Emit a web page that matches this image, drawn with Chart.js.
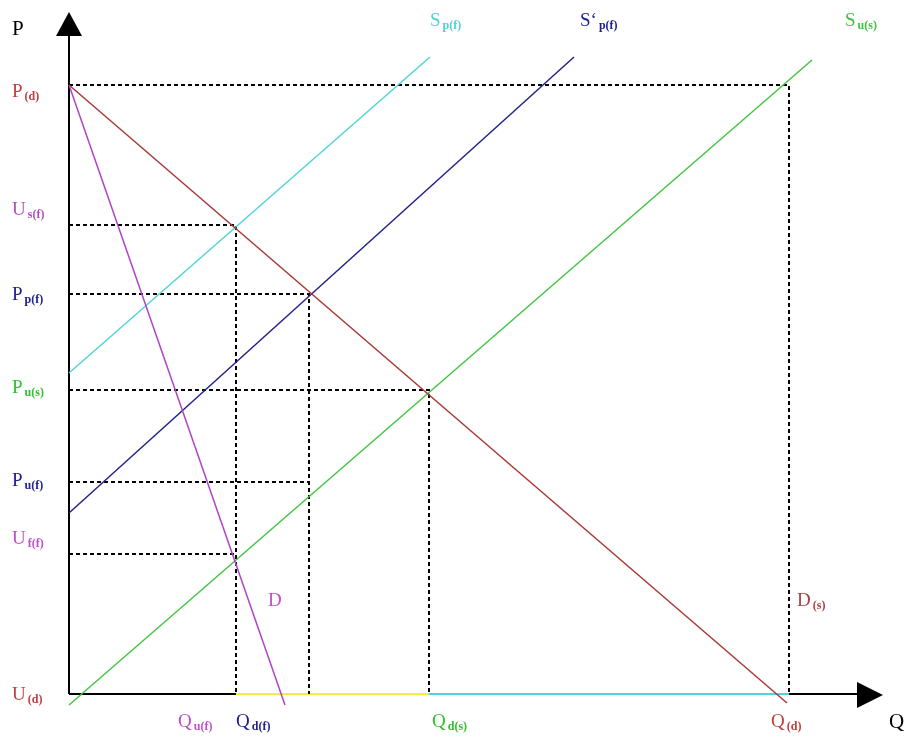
<!DOCTYPE html>
<html><head><meta charset="utf-8">
<script src="https://cdn.jsdelivr.net/npm/chart.js@4"></script>
<style>html,body{margin:0;padding:0;background:#fff}#wrap{width:904px;height:738px;position:relative}</style>
</head><body><div id="wrap"><canvas id="c"></canvas></div>
<script>
// ---- DATA (quantity Q, price P) ----
const dsQ = [0, 718],   dsP = [609, -9];     // D(s)
const dQ = [0, 216],    dP = [609, -11];     // D
const spfQ = [0, 361],  spfP = [321, 637];   // S p(f)
const sppfQ = [0, 505], sppfP = [181, 637];  // S' p(f)
const susQ = [0, 743],  susP = [-11, 634];   // S u(s)

const priceLevels = [609, 469, 400, 304, 212, 140];
const priceGuideEndQ = [720, 167, 240, 360, 240, 167];
const priceGuideDrop = [true, true, true, true, false, false];

const axisSegQ = [0, 167, 360, 720, 790];

const priceLabelMain = ['P', 'U', 'P', 'P', 'P', 'U', 'U'];
const priceLabelSub  = ['(d)', 's(f)', 'p(f)', 'u(s)', 'u(f)', 'f(f)', '(d)'];
const priceLabelAt   = [609, 469, 400, 304, 212, 140, 0];

const qLabelMain = ['Q', 'Q', 'Q', 'Q'];
const qLabelSub  = ['u(f)', 'd(f)', 'd(s)', '(d)'];
const qLabelAt   = [167, 167, 360, 720];

const curveLabelMain = ['S', 'S\u2018', 'S', 'D', 'D'];
const curveLabelSub  = ['p(f)', 'p(f)', 'u(s)', '', '(s)'];

// ---- STYLES ----
const C = {red:'#a83838', magenta:'#b044c4', cyan:'#50d4d8', navy:'#222288', green:'#44c444', yellow:'#f0f040'};
const priceLabelColor = ['#c04040', '#b050b8', '#202090', '#30c030', '#202090', '#c050c8', '#c04040'];
const priceLabelDy = [6, -16, 0, -3, -2, -16, 0];
const qLabelColor = ['#c050c8', '#202090', '#30c030', '#c04040'];
const qLabelDx = [-58, 0, 3, -18];
const curveLabelColor = ['#50d0d8', '#202090', '#40c040', '#c050c8', '#b04040'];
const curveLabelPos = [[430, 26], [580, 26], [845, 26], [268, 606], [797, 606]]; // pixel anchors (baseline)
const axisSegColor = ['#000', C.yellow, C.cyan, '#000'];

function pts(qs, ps){ return qs.map((q,i)=>({x:q, y:ps[i]})); }
function line(data, color, width, dash){
  return {data, showLine:true, borderColor:color, borderWidth:width, borderDash:dash||[], pointRadius:0, clip:false, fill:false};
}

const datasets = [];
datasets.push(line(pts(dsQ, dsP), C.red, 1.5));
datasets.push(line(pts(dQ, dP), C.magenta, 1.5));
datasets.push(line(pts(spfQ, spfP), C.cyan, 1.5));
datasets.push(line(pts(sppfQ, sppfP), C.navy, 1.5));
datasets.push(line(pts(susQ, susP), C.green, 1.5));
priceLevels.forEach((p,i)=>{
  const d = [{x:0,y:p},{x:priceGuideEndQ[i],y:p}];
  if (priceGuideDrop[i]) d.push({x:priceGuideEndQ[i], y:0});
  datasets.push(line(d, '#000', 2, [4,3]));
});
for (let i=0;i<axisSegQ.length-1;i++){
  datasets.push(line([{x:axisSegQ[i],y:0},{x:axisSegQ[i+1],y:0}], axisSegColor[i], 2));
}
datasets.push(line([{x:0,y:0},{x:0,y:665}], '#000', 2));

const labelPlugin = {
  id:'labels',
  afterDatasetsDraw(chart){
    const ctx = chart.ctx, xs = chart.scales.x, ys = chart.scales.y;
    ctx.save();
    const ox = xs.getPixelForValue(0), oy = ys.getPixelForValue(0);
    const topY = chart.chartArea.top, rightX = chart.chartArea.right;
    ctx.fillStyle = '#000';
    ctx.beginPath(); ctx.moveTo(ox, topY); ctx.lineTo(ox-13, topY+24); ctx.lineTo(ox+13, topY+24); ctx.closePath(); ctx.fill();
    ctx.beginPath(); ctx.moveTo(rightX-2, oy+1); ctx.lineTo(rightX-28, oy-12); ctx.lineTo(rightX-28, oy+14); ctx.closePath(); ctx.fill();

    function lab(main, sub, x, y, color, size){
      ctx.fillStyle = color;
      ctx.textBaseline = 'alphabetic';
      ctx.textAlign = 'left';
      ctx.font = size + 'px "Liberation Serif", serif';
      ctx.fillText(main, x, y);
      const w = ctx.measureText(main).width;
      if (sub){
        ctx.font = 'bold 12px "Liberation Serif", serif';
        ctx.fillText(sub, x + w + 2, y + 3);
      }
    }
    lab('P', '', 12, 35, '#000', 21);
    lab('Q', '', 889, 728, '#000', 21);
    priceLabelAt.forEach((p,i)=>{
      const y = ys.getPixelForValue(p) + priceLabelDy[i] + 6;
      lab(priceLabelMain[i], priceLabelSub[i], 12, y, priceLabelColor[i], 19);
    });
    qLabelAt.forEach((q,i)=>{
      const x = xs.getPixelForValue(q) + qLabelDx[i];
      lab(qLabelMain[i], qLabelSub[i], x, 727, qLabelColor[i], 19);
    });
    curveLabelMain.forEach((m,i)=>{
      lab(m, curveLabelSub[i], curveLabelPos[i][0], curveLabelPos[i][1], curveLabelColor[i], 19);
    });
    ctx.restore();
  }
};

new Chart(document.getElementById('c'), {
  type:'scatter',
  data:{datasets},
  options:{
    responsive:true, maintainAspectRatio:false, animation:false, events:[],
    layout:{padding:{left:69, top:12, right:19, bottom:44}},
    scales:{
      x:{type:'linear', display:false, min:0, max:816},
      y:{type:'linear', display:false, min:0, max:682}
    },
    plugins:{legend:{display:false}, tooltip:{enabled:false}},
    elements:{line:{tension:0}, point:{radius:0}}
  },
  plugins:[labelPlugin]
});
</script></body></html>
